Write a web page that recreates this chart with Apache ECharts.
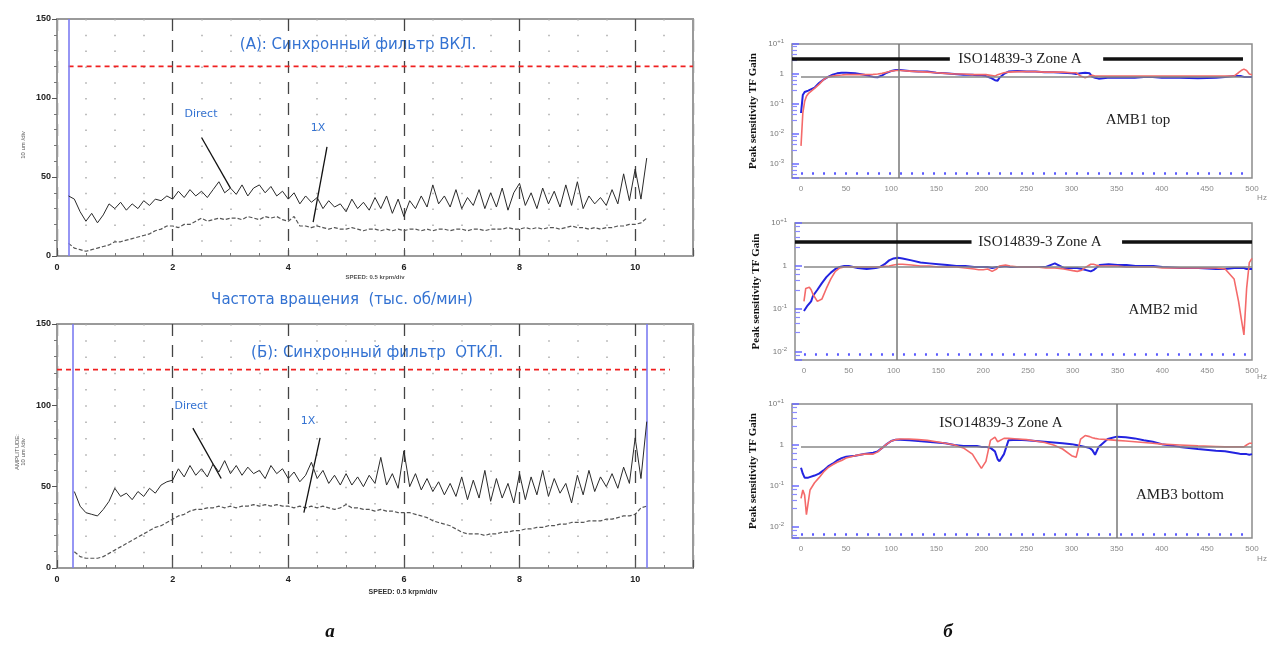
<!DOCTYPE html>
<html>
<head>
<meta charset="utf-8">
<script src="https://cdn.jsdelivr.net/npm/echarts@6/dist/echarts.min.js"></script>
<style>
html, body { margin: 0; padding: 0; background: #fff; }
#main { width: 1267px; height: 646px; }
</style>
</head>
<body>
<div id="main"></div>
<script>
// ---- левые графики: амплитуда от скорости (шаг 0.1 тыс. об/мин) ----
const speedStartA = 0.2;
const speedStartB = 0.3;
const directA = [
  38, 36, 28, 22, 27, 21, 26, 33, 30, 34,
  29, 33, 30, 35, 32, 36, 35, 38, 36, 41,
  37, 42, 38, 41, 37, 42, 47, 40, 43, 39,
  45, 38, 43, 45, 40, 44, 38, 41, 36, 40,
  33, 38, 34, 37, 30, 35, 31, 33, 28, 36,
  30, 34, 29, 37, 30, 38, 27, 36, 25, 35,
  30, 38, 31, 45, 33, 38, 31, 42, 30, 37,
  32, 42, 30, 40, 31, 43, 29, 40, 46, 32,
  40, 30, 43, 33, 41, 31, 45, 32, 47, 30,
  38, 33, 37, 32, 42, 33, 52, 35, 55, 36,
  62
];
const oneXA = [
  8, 5, 4, 3, 4, 5, 6, 7, 9, 9,
  10, 11, 12, 13, 14, 16, 17, 19, 19, 18,
  20, 20, 22, 24, 22, 23, 24, 23, 24, 24,
  23, 25, 24, 23, 25, 24, 25, 23, 22, 25,
  19, 19, 18, 19, 18, 17, 18, 17, 17, 18,
  17, 16, 17, 17, 16, 17, 16, 17, 16, 17,
  17, 16, 17, 16, 17, 17, 16, 17, 17, 16,
  17, 17, 16, 17, 17, 17, 18, 17, 17, 18,
  17, 18, 17, 18, 18, 17, 18, 19, 18, 18,
  17, 18, 17, 18, 18, 19, 19, 20, 20, 21,
  24
];
const directB = [
  47, 38, 34, 33, 32, 36, 41, 49, 44, 46,
  42, 47, 44, 49, 46, 51, 53, 54, 61, 56,
  63, 57, 61, 56, 64, 59, 66, 58, 63, 57,
  62, 58, 60, 55, 63, 58, 61, 55, 59, 53,
  57, 65, 55, 60, 52, 57, 51, 58, 51, 56,
  50, 57, 52, 68, 51, 58, 49, 72, 50, 58,
  48, 55, 47, 53, 45, 52, 44, 56, 42, 54,
  43, 60, 41, 55, 43, 52, 40, 58, 42, 56,
  45, 60, 44, 55, 46, 52, 40, 57, 45, 60,
  47, 56, 50, 58, 49, 62, 52, 80, 55, 90
];
const oneXB = [
  10, 7, 6, 6, 6, 7, 9, 11, 13, 15,
  17, 19, 21, 23, 25, 26, 28, 30, 32, 33,
  35, 36, 36, 37, 37, 38, 37, 38, 37, 38,
  38, 39, 38, 39, 38, 39, 38, 38, 37, 38,
  37, 38, 37, 38, 37, 36, 37, 39, 37, 37,
  36, 36, 35, 36, 35, 35, 34, 34, 34, 33,
  32, 31, 29, 28, 27, 26, 24, 22, 21, 21,
  21, 20, 21, 21, 22, 22, 23, 23, 24, 24,
  25, 25, 26, 26, 27, 27, 28, 28, 28, 29,
  29, 29, 30, 30, 31, 32, 32, 33, 37, 38
];
const limitA = 120;
const limitB = 122;
const cursorsA = [0.2];
const cursorsB = [0.27, 10.2];

// ---- правые графики: Peak sensitivity TF Gain от частоты (Гц) ----
const hz = [0, 2, 4, 6, 8, 10, 15, 20, 25, 30, 35, 40, 45, 50, 60, 70, 80, 85, 90, 95,
  100, 105, 110, 120, 130, 140, 150, 160, 170, 180, 190, 195, 200, 205, 210, 215, 218, 220, 225, 230,
  240, 250, 260, 270, 280, 290, 300, 305, 310, 315, 320, 323, 326, 330, 340, 350, 360, 370, 380, 390,
  400, 420, 440, 460, 470, 480, 485, 488, 491, 494, 497, 500];
const amb1Red = [0.004, 0.05, 0.12, 0.18, 0.22, 0.25, 0.33, 0.45, 0.65, 0.8, 0.85, 0.9, 0.92, 0.95, 0.95, 0.95, 0.97, 1.0, 1.05, 1.15,
  1.25, 1.3, 1.3, 1.25, 1.2, 1.15, 1.1, 1.05, 1.0, 1.0, 0.95, 0.95, 0.95, 0.95, 0.9, 0.85, 0.95, 1.0, 1.1, 1.15,
  1.2, 1.2, 1.2, 1.15, 1.15, 1.15, 1.1, 1.1, 0.85, 0.75, 0.85, 0.9, 0.85, 0.85, 0.85, 0.85, 0.85, 0.85, 0.85, 0.85,
  0.85, 0.85, 0.85, 0.85, 0.85, 0.85, 1.1, 1.3, 1.45, 1.3, 1.0, 0.95];
const amb1Blue = [0.05, 0.2, 0.25, 0.26, 0.28, 0.3, 0.35, 0.5, 0.65, 0.8, 0.95, 1.05, 1.1, 1.1, 1.05, 0.95, 0.8, 0.78, 0.9, 1.1,
  1.25, 1.35, 1.35, 1.25, 1.2, 1.2, 1.1, 1.05, 1.0, 0.95, 0.95, 0.9, 0.9, 0.85, 0.75, 0.62, 0.6, 0.75, 1.0, 1.2,
  1.25, 1.2, 1.2, 1.15, 1.15, 1.1, 1.05, 1.0, 1.05, 1.1, 1.05, 0.8, 0.75, 0.7, 0.75, 0.75, 0.75, 0.75, 0.8, 0.8,
  0.75, 0.75, 0.72, 0.75, 0.8, 0.85, 0.85, 0.85, 0.8, 0.8, 0.8, 0.8];
const amb2Red = [0.15, 0.3, 0.33, 0.32, 0.28, 0.22, 0.15, 0.17, 0.3, 0.5, 0.75, 0.9, 0.95, 0.95, 0.95, 0.95, 0.95, 0.95, 0.98, 1.0,
  1.05, 1.1, 1.1, 1.05, 1.0, 1.0, 0.95, 0.95, 0.95, 0.9, 0.85, 0.82, 0.82, 0.85, 0.75, 0.85, 1.0, 1.05, 1.05, 1.0,
  0.95, 0.95, 0.95, 0.9, 0.9, 0.85, 0.78, 0.75, 0.8, 0.95, 1.1, 1.1, 1.05, 1.0, 1.0, 1.0, 0.95, 0.95, 0.95, 0.95,
  0.9, 0.9, 0.9, 0.9, 0.85, 0.5, 0.15, 0.06, 0.025, 0.3, 1.2, 1.5];
const amb2Blue = [0.09, 0.1, 0.12, 0.12, 0.15, 0.2, 0.28, 0.4, 0.55, 0.7, 0.85, 0.95, 1.0, 1.0, 0.9, 0.85, 0.9, 0.95, 1.1, 1.35,
  1.5, 1.55, 1.5, 1.35, 1.2, 1.15, 1.1, 1.05, 1.0, 1.0, 0.95, 0.95, 0.95, 0.95, 0.9, 0.95, 0.95, 0.95, 1.0, 0.95,
  0.95, 0.95, 0.95, 0.95, 1.15, 0.9, 0.9, 0.9, 0.85, 0.8, 0.75, 0.8, 0.9, 1.05, 1.1, 1.05, 1.05, 1.0, 1.0, 1.0,
  0.95, 0.9, 0.9, 0.85, 0.85, 0.9, 0.9, 0.9, 0.9, 0.85, 0.85, 0.85];
const amb3Red = [0.05, 0.08, 0.06, 0.02, 0.04, 0.08, 0.12, 0.16, 0.22, 0.28, 0.33, 0.38, 0.42, 0.48, 0.55, 0.6, 0.6, 0.68, 0.85, 1.05,
  1.25, 1.35, 1.4, 1.4, 1.35, 1.3, 1.2, 1.1, 1.0, 0.85, 0.6, 0.4, 0.27, 0.4, 1.3, 1.55, 1.2, 1.1, 1.45, 1.45,
  1.4, 1.35, 1.25, 1.15, 1.0, 0.8, 0.55, 0.5, 1.4, 1.7, 1.6, 1.5, 1.45, 1.4, 1.35, 1.3, 1.25, 1.2, 1.15, 1.1,
  1.05, 1.0, 0.95, 0.92, 0.9, 0.9, 0.9, 0.9, 0.9, 1.0, 1.1, 1.1];
const amb3Blue = [0.28, 0.2, 0.16, 0.15, 0.16, 0.17, 0.18, 0.2, 0.24, 0.3, 0.35, 0.42, 0.48, 0.52, 0.55, 0.6, 0.65, 0.7, 0.85, 1.05,
  1.25, 1.35, 1.35, 1.3, 1.25, 1.2, 1.15, 1.1, 1.0, 0.95, 0.95, 0.95, 0.9, 0.9, 0.85, 0.7, 0.45, 0.4, 0.6, 1.3,
  1.35, 1.3, 1.25, 1.2, 1.15, 1.1, 1.05, 1.0, 0.95, 0.9, 0.85, 0.75, 0.58, 0.9, 1.4, 1.6, 1.55, 1.45, 1.3, 1.2,
  1.05, 0.9, 0.8, 0.72, 0.7, 0.65, 0.62, 0.6, 0.6, 0.6, 0.58, 0.6];
const hzTicks = [0, 50, 100, 150, 200, 250, 300, 350, 400, 450, 500];
const refGain = [0.8, 0.95, 0.9];
const markerHz = [108, 104, 350];
const isoLevel = [3.16, 3.6];
const isoSegments = [[[-10, 165], [335, 490]], [[-10, 187], [355, 500]]];
const gainMin = [0.00034, 0.0065, 0.0054];
const dotRow = [0.0005, 0.009, 0.0066];

const BLUE_TXT = '#3372d2';
const grids = [
  { left: 57, top: 19, width: 636, height: 237 },
  { left: 57, top: 324, width: 636, height: 244 },
  { left: 792, top: 44, width: 460, height: 134 },
  { left: 795, top: 223, width: 457, height: 137 },
  { left: 792, top: 404, width: 460, height: 134 }
];

function pairs(xs, ys) { return ys.map((v, i) => [xs[i], v]); }
function speedGrid(start, n) {
  const r = [];
  for (let i = 0; i < n; i++) r.push(Math.round((start + i * 0.1) * 10) / 10);
  return r;
}
const speedA = speedGrid(speedStartA, directA.length);
const speedB = speedGrid(speedStartB, directB.length);

function leftX(gi, dotGap) {
  return {
    gridIndex: gi, type: 'value', min: 0, max: 11, interval: 2,
    axisLine: { show: false },
    axisTick: { show: true, inside: true, length: 8, lineStyle: { color: '#555' } },
    minorTick: { show: true, splitNumber: 4, length: 3, lineStyle: { color: '#777' } },
    axisLabel: {
      color: '#222', fontSize: 9, fontWeight: 'bold', margin: 7,
      formatter: v => (v % 2 === 0 && v <= 10) ? String(v) : ''
    },
    splitLine: { show: true, lineStyle: { color: '#444', type: [12, 9], width: 1.3 } },
    minorSplitLine: { show: true, lineStyle: { color: '#aaa', type: [1.5, dotGap], width: 1.5 } }
  };
}
function leftY(gi, pos) {
  const main = pos === 'left';
  return {
    gridIndex: gi, type: 'value', min: 0, max: 150, interval: 50, position: pos,
    axisLine: { show: true, onZero: false, lineStyle: { color: '#9a9a9a', width: 2 } },
    axisTick: { show: main, length: 5, lineStyle: { color: '#555' } },
    minorTick: { show: main, splitNumber: 5, length: 3, lineStyle: { color: '#777' } },
    axisLabel: { show: main, color: '#222', fontSize: 9, fontWeight: 'bold', margin: 6 },
    splitLine: { show: false }
  };
}
function rightX(gi) {
  return {
    gridIndex: gi, type: 'value', min: -10, max: 500,
    axisLine: { show: false, onZero: false }, axisTick: { show: false }, splitLine: { show: false },
    axisLabel: { customValues: hzTicks, color: '#8a8a8a', fontSize: 8, margin: 7 }
  };
}
function decadeLabel(v) {
  const l = Math.log10(v), e = Math.round(l);
  if (Math.abs(l - e) > 0.02) return '';
  if (e === 0) return '1';
  return '10{s|' + (e > 0 ? '+' : '') + e + '}';
}
function rightY(gi, k) {
  return {
    gridIndex: gi, type: 'log', logBase: 10, min: gainMin[k], max: 10,
    axisLine: { show: false, onZero: false },
    axisTick: { show: true, inside: true, length: 7, lineStyle: { color: '#6b6bff', width: 1.5 } },
    minorTick: { show: true, splitNumber: 5, length: 5, lineStyle: { color: '#8a8aff', width: 1.2 } },
    splitLine: { show: false },
    axisLabel: {
      formatter: decadeLabel, color: '#777', fontSize: 8, margin: 8,
      rich: { s: { fontSize: 6, color: '#777', padding: [0, 0, 6, 0] } }
    },
    name: 'Peak sensitivity TF Gain', nameLocation: 'middle', nameGap: 33,
    nameTextStyle: { fontFamily: 'Liberation Serif', fontWeight: 'bold', fontSize: 11, color: '#111' }
  };
}

const series = [];
// (A)
series.push({
  type: 'line', xAxisIndex: 0, yAxisIndex: 0, data: pairs(speedA, directA), showSymbol: false,
  lineStyle: { color: '#2a2a2a', width: 1 }, z: 5,
  markLine: {
    silent: true, symbol: 'none', label: { show: false }, animation: false,
    lineStyle: { color: '#111', width: 1.3, type: 'solid' },
    data: [
      [{ coord: [2.5, 75] }, { coord: [3.0, 43] }],
      [{ coord: [4.67, 69] }, { coord: [4.43, 21.5] }]
    ]
  }
});
series.push({
  type: 'line', xAxisIndex: 0, yAxisIndex: 0, data: pairs(speedA, oneXA), showSymbol: false,
  lineStyle: { color: '#555', width: 1.2, type: [4, 2] },
  markLine: {
    silent: true, symbol: 'none', label: { show: false }, animation: false,
    lineStyle: { color: '#7c7cf2', width: 1.6, type: 'solid' },
    data: cursorsA.map(v => ({ xAxis: v }))
  }
});
series.push({
  type: 'line', xAxisIndex: 0, yAxisIndex: 0, data: [[speedStartA, limitA], [11, limitA]], showSymbol: false,
  lineStyle: { color: '#f02020', width: 1.8, type: [5, 4] }
});
// (Б)
series.push({
  type: 'line', xAxisIndex: 1, yAxisIndex: 2, data: pairs(speedB, directB), showSymbol: false,
  lineStyle: { color: '#2a2a2a', width: 1 }, z: 5,
  markLine: {
    silent: true, symbol: 'none', label: { show: false }, animation: false,
    lineStyle: { color: '#111', width: 1.3, type: 'solid' },
    data: [
      [{ coord: [2.35, 86] }, { coord: [2.84, 55] }],
      [{ coord: [4.55, 80] }, { coord: [4.27, 34] }]
    ]
  }
});
series.push({
  type: 'line', xAxisIndex: 1, yAxisIndex: 2, data: pairs(speedB, oneXB), showSymbol: false,
  lineStyle: { color: '#555', width: 1.2, type: [4, 2] },
  markLine: {
    silent: true, symbol: 'none', label: { show: false }, animation: false,
    lineStyle: { color: '#7c7cf2', width: 1.6, type: 'solid' },
    data: cursorsB.map(v => ({ xAxis: v }))
  }
});
series.push({
  type: 'line', xAxisIndex: 1, yAxisIndex: 2, data: [[0, limitB], [10.6, limitB]], showSymbol: false,
  lineStyle: { color: '#f02020', width: 1.8, type: [5, 4] }
});

// AMB panels
const ambRed = [amb1Red, amb2Red, amb3Red];
const ambBlue = [amb1Blue, amb2Blue, amb3Blue];
for (let k = 0; k < 3; k++) {
  const xi = 2 + k, yi = 4 + k;
  const dotSt = { color: '#5a5aff', width: 2.5, type: [2, 9] };
  const greySt = { color: '#888', width: 1.5, type: 'solid' };
  const refLines = [
    { xAxis: markerHz[k], lineStyle: { color: '#777', width: 1.5, type: 'solid' } },
    [{ coord: [0, dotRow[k]], lineStyle: dotSt }, { coord: [500, dotRow[k]], lineStyle: dotSt }],
    [{ coord: [0, refGain[k]], lineStyle: greySt }, { coord: [500, refGain[k]], lineStyle: greySt }]
  ];
  if (k < 2) {
    isoSegments[k].forEach(s => {
      const st = { color: '#111', width: 3.5, type: 'solid' };
      refLines.push([{ coord: [s[0], isoLevel[k]], lineStyle: st }, { coord: [s[1], isoLevel[k]], lineStyle: st }]);
    });
  }
  series.push({
    type: 'line', xAxisIndex: xi, yAxisIndex: yi, data: pairs(hz, ambRed[k]), showSymbol: false,
    lineStyle: { color: '#f46a6a', width: 1.6 }, z: 4,
    markLine: { silent: true, symbol: 'none', label: { show: false }, animation: false, data: refLines }
  });
  series.push({
    type: 'line', xAxisIndex: xi, yAxisIndex: yi, data: pairs(hz, ambBlue[k]), showSymbol: false,
    lineStyle: { color: '#2323e0', width: 2 }, z: 3
  });
}

function txt(x, y, text, font, fill, extra) {
  return Object.assign({
    type: 'text', x: x, y: y, silent: true,
    style: { text: text, font: font, fill: fill, textAlign: 'center', align: 'center', textVerticalAlign: 'middle', verticalAlign: 'middle' }
  }, extra || {});
}
const graphics = [
  txt(358, 45, '(A): Синхронный фильтр ВКЛ.', '15px "DejaVu Sans"', BLUE_TXT),
  txt(342, 300, 'Частота вращения  (тыс. об/мин)', '15px "DejaVu Sans"', BLUE_TXT),
  txt(377, 353, '(Б): Синхронный фильтр  ОТКЛ.', '15px "DejaVu Sans"', BLUE_TXT),
  txt(201, 114, 'Direct', '11px "DejaVu Sans"', BLUE_TXT),
  txt(318, 128, '1X', '11px "DejaVu Sans"', BLUE_TXT),
  txt(191, 406, 'Direct', '11px "DejaVu Sans"', BLUE_TXT),
  txt(308, 421, '1X', '11px "DejaVu Sans"', BLUE_TXT),
  txt(375, 277, 'SPEED: 0.5 krpm/div', 'bold 6px "Liberation Sans"', '#555'),
  txt(403, 592, 'SPEED: 0.5 krpm/div', 'bold 7px "Liberation Sans"', '#333'),
  txt(23, 145, '10 um /div', '6px "Liberation Sans"', '#555', { rotation: Math.PI / 2 }),
  txt(20, 452, 'AMPLITUDE:\n10 um /div', '6px "Liberation Sans"', '#555', { rotation: Math.PI / 2 }),
  txt(330, 632, 'а', 'italic bold 19px "Liberation Serif"', '#111'),
  txt(948, 632, 'б', 'italic bold 19px "Liberation Serif"', '#111'),
  txt(1020, 59, 'ISO14839-3 Zone A', '15px "Liberation Serif"', '#222'),
  txt(1040, 242, 'ISO14839-3 Zone A', '15px "Liberation Serif"', '#222'),
  txt(1001, 423, 'ISO14839-3 Zone A', '15px "Liberation Serif"', '#222'),
  txt(1138, 120, 'AMB1 top', '15px "Liberation Serif"', '#222'),
  txt(1163, 310, 'AMB2 mid', '15px "Liberation Serif"', '#222'),
  txt(1180, 495, 'AMB3 bottom', '15px "Liberation Serif"', '#222'),
  txt(1262, 198, 'Hz', '8px "Liberation Sans"', '#8a8a8a'),
  txt(1262, 377, 'Hz', '8px "Liberation Sans"', '#8a8a8a'),
  txt(1262, 559, 'Hz', '8px "Liberation Sans"', '#8a8a8a')
];

const option = {
  animation: false,
  backgroundColor: '#fff',
  textStyle: { fontFamily: 'Liberation Sans' },
  grid: grids.map((g, i) => Object.assign({
    show: true, borderColor: i < 2 ? '#9a9a9a' : '#8c8c8c', borderWidth: i < 2 ? 2 : 1.5, backgroundColor: 'transparent'
  }, g)),
  xAxis: [leftX(0, 14.3), leftX(1, 14.77), rightX(2), rightX(3), rightX(4)],
  yAxis: [leftY(0, 'left'), leftY(0, 'right'), leftY(1, 'left'), leftY(1, 'right'), rightY(2, 0), rightY(3, 1), rightY(4, 2)],
  series: series,
  graphic: graphics
};

const myChart = echarts.init(document.getElementById('main'));
myChart.setOption(option);
</script>
</body>
</html>
